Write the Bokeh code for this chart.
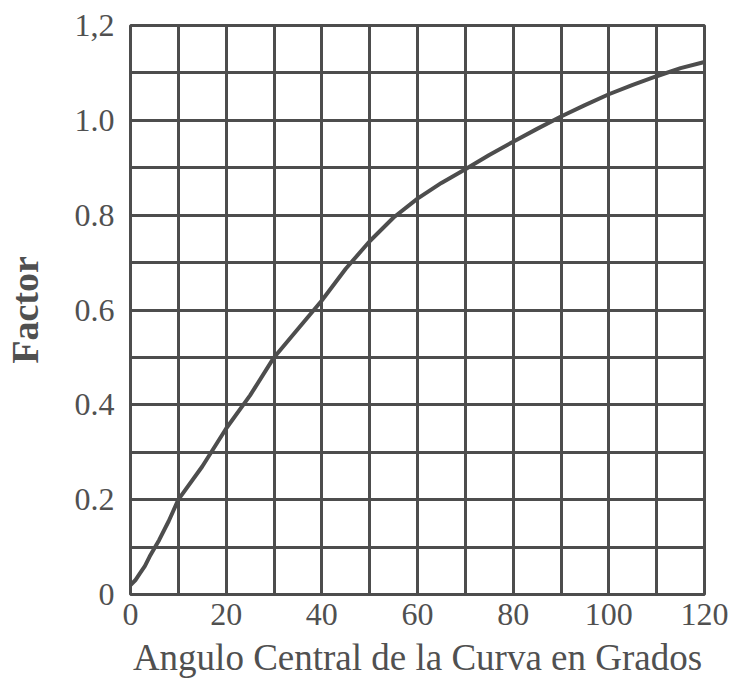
from bokeh.plotting import figure
from bokeh.models import Range1d, SingleIntervalTicker, FixedTicker
from bokeh.embed import file_html
from bokeh.resources import INLINE

# Data
angle = [0, 1, 2, 3, 4, 6, 8, 10, 15, 20, 25, 30, 35, 40, 45, 50, 55, 60,
         65, 70, 75, 80, 85, 90, 95, 100, 105, 110, 115, 120]
factor = [0.02, 0.03, 0.045, 0.06, 0.08, 0.115, 0.155, 0.20, 0.27, 0.35,
          0.42, 0.50, 0.56, 0.62, 0.687, 0.745, 0.795, 0.835, 0.868, 0.897,
          0.927, 0.955, 0.982, 1.008, 1.032, 1.055, 1.075, 1.093, 1.11, 1.123]

x_ticks = [0, 20, 40, 60, 80, 100, 120]
y_ticks = [0, 0.2, 0.4, 0.6, 0.8, 1.0, 1.2]
y_tick_labels = ["0", "0.2", "0.4", "0.6", "0.8", "1.0", "1,2"]
x_label = "Angulo Central de la Curva en Grados"
y_label = "Factor"

INK = "#4d4d4d"
TXT = "#505050"
FONT = "Liberation Serif"

p = figure(width=730, height=686, output_backend="svg", toolbar_location=None,
           x_range=Range1d(0, 120), y_range=Range1d(0, 1.2),
           min_border_left=128, min_border_right=26,
           min_border_top=25, min_border_bottom=92)

p.background_fill_color = "white"
p.border_fill_color = "white"
p.outline_line_color = INK
p.outline_line_width = 3

# grid
p.xgrid.ticker = SingleIntervalTicker(interval=10)
p.ygrid.ticker = SingleIntervalTicker(interval=0.1)
for g in (p.xgrid, p.ygrid):
    g.grid_line_color = INK
    g.grid_line_width = 3
    g.grid_line_alpha = 1.0

# axes
p.xaxis.ticker = FixedTicker(ticks=x_ticks)
p.yaxis.ticker = FixedTicker(ticks=y_ticks)
p.yaxis.major_label_overrides = {t: l for t, l in zip(y_ticks, y_tick_labels)}
for ax in (p.xaxis, p.yaxis):
    ax.axis_line_color = None
    ax.major_tick_line_color = None
    ax.minor_tick_line_color = None
    ax.major_label_text_font = FONT
    ax.major_label_text_font_size = "32px"
    ax.major_label_text_color = TXT
    ax.axis_label_text_font = FONT
    ax.axis_label_text_color = TXT
p.xaxis.major_label_standoff = 3
p.yaxis.major_label_standoff = 10

p.xaxis.axis_label = x_label
p.xaxis.axis_label_text_font_size = "37px"
p.xaxis.axis_label_text_font_style = "normal"
p.xaxis.axis_label_standoff = 9

p.yaxis.axis_label = y_label
p.yaxis.axis_label_text_font_size = "38px"
p.yaxis.axis_label_text_font_style = "bold"
p.yaxis.axis_label_standoff = 26

p.line(angle, factor, line_color=INK, line_width=4)

open("out.html", "w").write(file_html(p, INLINE))
